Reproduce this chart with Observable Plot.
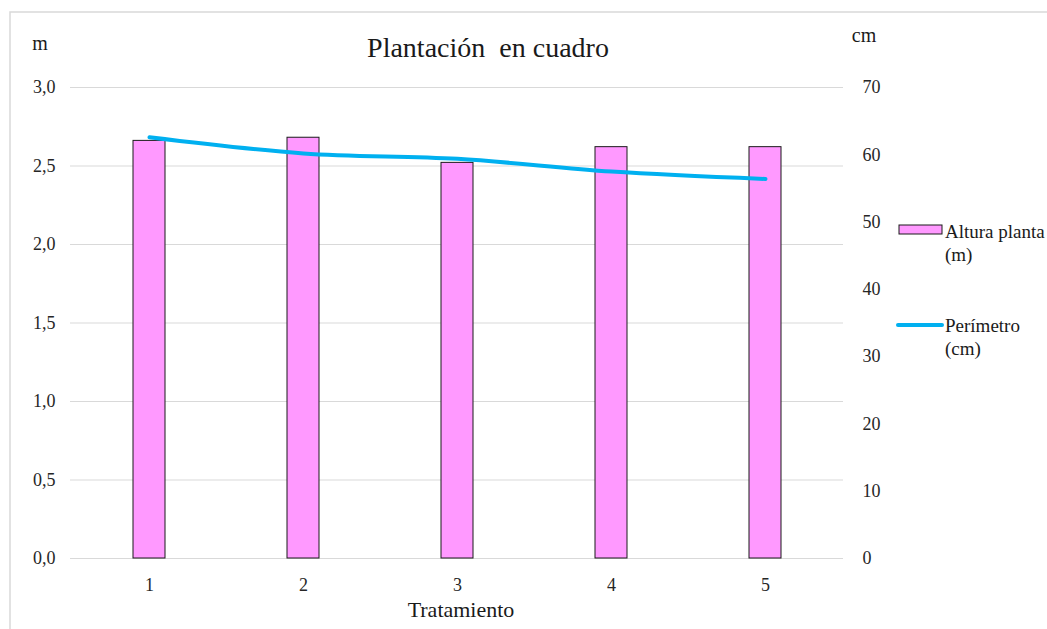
<!DOCTYPE html>
<html>
<head>
<meta charset="utf-8">
<script src="https://cdn.jsdelivr.net/npm/d3@7"></script>
<script src="https://cdn.jsdelivr.net/npm/@observablehq/plot@0.6"></script>
<style>
  html, body { margin: 0; padding: 0; background: #fff; }
  #chart { position: relative; width: 1047px; height: 629px; overflow: hidden; }
  #chart svg, #chart svg text { font-family: "Liberation Serif", "Times New Roman", serif !important; }
</style>
</head>
<body>
<div id="chart"></div>
<script>
// ---- Data ----
const tratamientos = [1, 2, 3, 4, 5];
const alturaPlanta = [2.66, 2.68, 2.52, 2.62, 2.62];   // m (left axis)
const perimetro = [62.6, 60.2, 59.4, 57.5, 56.4];      // cm (right axis)
const leftTicks = [0, 0.5, 1.0, 1.5, 2.0, 2.5, 3.0];
const rightTicks = [0, 10, 20, 30, 40, 50, 60, 70];
const leftMax = 3.0;
const rightMax = 70;

const title = "Plantación\u00a0\u00a0en cuadro";
const xLabel = "Tratamiento";
const leftUnit = "m";
const rightUnit = "cm";
const legendBar = ["Altura planta", "(m)"];
const legendLine = ["Perímetro", "(cm)"];

const toLeft = v => v * leftMax / rightMax;
const toRight = v => v * rightMax / leftMax;

const rows = tratamientos.map((t, i) => ({t, altura: alturaPlanta[i], per: perimetro[i]}));

const W = 1047, H = 629;
const fontFamily = "Liberation Serif, Times New Roman, serif";

const plot = Plot.plot({
  width: W,
  height: H,
  marginLeft: 70,
  marginRight: 204,
  marginTop: 87,
  marginBottom: 71,
  style: {fontFamily, fontSize: "18px", color: "#262626", background: "transparent"},
  x: {type: "band", domain: tratamientos, paddingInner: 0.793, paddingOuter: 0.3965, label: null},
  y: {domain: [0, leftMax], label: null},
  marks: [
    Plot.gridY(leftTicks, {stroke: "#d9d9d9", strokeOpacity: 1, strokeWidth: 1}),
    Plot.barY(rows, {x: "t", y: "altura", fill: "#ff99ff", stroke: "#1a1a1a", strokeWidth: 1}),
    Plot.line(rows, {x: "t", y: d => toLeft(d.per), stroke: "#00b0f0", strokeWidth: 4, curve: "catmull-rom", strokeLinecap: "round"}),
    Plot.axisY(leftTicks, {anchor: "left", tickSize: 0, tickPadding: 15, label: null,
      tickFormat: d => d.toFixed(1).replace(".", ","), fontSize: 18}),
    Plot.axisY(rightTicks.map(toLeft), {anchor: "right", tickSize: 0, tickPadding: 19, label: null,
      tickFormat: d => String(Math.round(toRight(d))), fontSize: 18}),
    Plot.axisX({tickSize: 0, tickPadding: 20, label: null, fontSize: 18})
  ]
});

document.getElementById("chart").appendChild(plot);

// ---- Annotations (titles, units, legend, frame) ----
const svg = d3.select(plot);

// chart border
svg.append("path")
  .attr("d", `M10,${H + 5} L10,12 L${W + 5},12`)
  .attr("fill", "none").attr("stroke", "#d9d9d9").attr("stroke-width", 1.5);

const txt = (x, y, s, size, anchor = "middle") => svg.append("text")
  .attr("x", x).attr("y", y).attr("text-anchor", anchor)
  .style("font-size", size + "px")
  .attr("fill", "#1a1a1a").text(s);

txt(488, 57, title, 28);
txt(461, 617, xLabel, 22);
txt(40, 50, leftUnit, 20);
txt(864, 42, rightUnit, 20);

// legend
svg.append("rect").attr("x", 899).attr("y", 225).attr("width", 43).attr("height", 9)
  .attr("fill", "#ff99ff").attr("stroke", "#1a1a1a").attr("stroke-width", 1);
txt(945, 238, legendBar[0], 19, "start");
txt(945, 261, legendBar[1], 19, "start");

svg.append("line").attr("x1", 898).attr("x2", 942).attr("y1", 325).attr("y2", 325)
  .attr("stroke", "#00b0f0").attr("stroke-width", 4).attr("stroke-linecap", "round");
txt(945, 332, legendLine[0], 19, "start");
txt(945, 355, legendLine[1], 19, "start");
</script>
</body>
</html>
